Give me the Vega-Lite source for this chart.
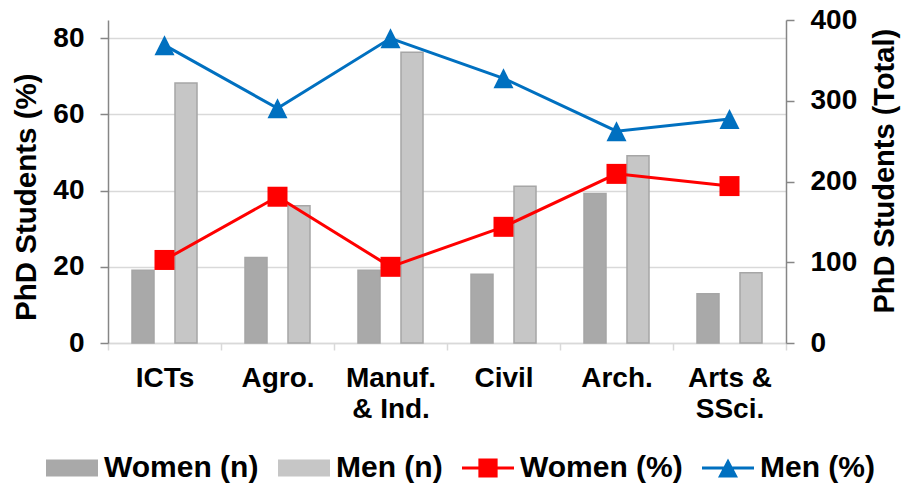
{
  "$schema": "https://vega.github.io/schema/vega-lite/v6.json",
  "width": 678,
  "height": 323,
  "autosize": {"type": "none"},
  "padding": {"left": 108, "top": 20, "right": 118, "bottom": 143},
  "background": "white",
  "config": {
    "view": {"stroke": null},
    "font": "Liberation Sans",
    "axis": {
      "labelFont": "Liberation Sans", "labelFontWeight": "bold", "labelFontSize": 28, "labelColor": "#000000",
      "titleFont": "Liberation Sans", "titleFontWeight": "bold", "titleColor": "#000000",
      "domainColor": "#868686", "domainWidth": 1.5, "tickColor": "#868686", "tickWidth": 1.5,
      "tickSize": 8, "labelPadding": 16, "gridColor": "#d9d9d9", "gridWidth": 1.5
    }
  },
  "datasets": {
    "counts": [
      {"field": "ICTs", "series": "Women (n)", "value": 90},
      {"field": "ICTs", "series": "Men (n)", "value": 322},
      {"field": "Agro.", "series": "Women (n)", "value": 106},
      {"field": "Agro.", "series": "Men (n)", "value": 170},
      {"field": "Manuf. & Ind.", "series": "Women (n)", "value": 90},
      {"field": "Manuf. & Ind.", "series": "Men (n)", "value": 360},
      {"field": "Civil", "series": "Women (n)", "value": 85},
      {"field": "Civil", "series": "Men (n)", "value": 194},
      {"field": "Arch.", "series": "Women (n)", "value": 185},
      {"field": "Arch.", "series": "Men (n)", "value": 232},
      {"field": "Arts & SSci.", "series": "Women (n)", "value": 61},
      {"field": "Arts & SSci.", "series": "Men (n)", "value": 87}
    ],
    "shares": [
      {"field": "ICTs", "idx": 1, "series": "Women (%)", "value": 21.8},
      {"field": "ICTs", "idx": 1, "series": "Men (%)", "value": 78.2},
      {"field": "Agro.", "idx": 2, "series": "Women (%)", "value": 38.4},
      {"field": "Agro.", "idx": 2, "series": "Men (%)", "value": 61.6},
      {"field": "Manuf. & Ind.", "idx": 3, "series": "Women (%)", "value": 20.0},
      {"field": "Manuf. & Ind.", "idx": 3, "series": "Men (%)", "value": 80.0},
      {"field": "Civil", "idx": 4, "series": "Women (%)", "value": 30.5},
      {"field": "Civil", "idx": 4, "series": "Men (%)", "value": 69.5},
      {"field": "Arch.", "idx": 5, "series": "Women (%)", "value": 44.4},
      {"field": "Arch.", "idx": 5, "series": "Men (%)", "value": 55.6},
      {"field": "Arts & SSci.", "idx": 6, "series": "Women (%)", "value": 41.2},
      {"field": "Arts & SSci.", "idx": 6, "series": "Men (%)", "value": 58.8}
    ]
  },
  "layer": [
    {
      "data": {"name": "counts"},
      "mark": {"type": "bar", "stroke": "#a6a6a6", "strokeWidth": 1.5},
      "encoding": {
        "x": {
          "field": "field", "type": "nominal",
          "sort": ["ICTs", "Agro.", "Manuf. & Ind.", "Civil", "Arch.", "Arts & SSci."],
          "scale": {"paddingInner": 0, "paddingOuter": 0},
          "axis": {
            "title": null, "labelAngle": 0, "domainColor": "#d9d9d9", "tickColor": "#d9d9d9",
            "tickSize": 7, "tickBand": "extent", "labelPadding": 14.5, "labelLineHeight": 31,
            "labelExpr": "datum.label == 'Manuf. & Ind.' ? ['Manuf.', '& Ind.'] : datum.label == 'Arts & SSci.' ? ['Arts &', 'SSci.'] : datum.label"
          }
        },
        "xOffset": {
          "field": "series", "type": "nominal", "sort": ["Women (n)", "Men (n)"],
          "scale": {"paddingInner": 0.488, "paddingOuter": 0.558}
        },
        "y": {
          "field": "value", "type": "quantitative",
          "scale": {"domain": [0, 400], "nice": false},
          "axis": {
            "orient": "right", "values": [0, 100, 200, 300, 400], "grid": false,
            "title": "PhD Students (Total)", "titleFontSize": 29, "titleAngle": 270,
            "titleBaseline": "top", "titlePadding": 14, "titleY": 150.7
          }
        },
        "color": {
          "field": "series", "type": "nominal",
          "scale": {"domain": ["Women (n)", "Men (n)", "Women (%)", "Men (%)"], "range": ["#a9a9a9", "#c6c6c6", "#ff0000", "#0070c0"]}
        }
      }
    },
    {
      "data": {"name": "shares"},
      "layer": [
        {
          "mark": {"type": "line", "strokeWidth": 3},
          "encoding": {
            "x": {"field": "field", "type": "nominal", "sort": ["ICTs", "Agro.", "Manuf. & Ind.", "Civil", "Arch.", "Arts & SSci."]},
            "y": {
              "field": "value", "type": "quantitative",
              "scale": {"domain": [0, 84.8], "nice": false},
              "axis": {
                "orient": "left", "values": [0, 20, 40, 60, 80], "grid": true,
                "title": "PhD Students (%)", "titleFontSize": 29.5, "titlePadding": 11, "titleY": 176.7
              }
            },
            "order": {"field": "idx", "type": "quantitative"},
            "color": {"field": "series", "type": "nominal"}
          }
        },
        {
          "mark": {"type": "point", "filled": true, "opacity": 1, "size": 400},
          "encoding": {
            "x": {"field": "field", "type": "nominal", "sort": ["ICTs", "Agro.", "Manuf. & Ind.", "Civil", "Arch.", "Arts & SSci."]},
            "y": {"field": "value", "type": "quantitative"},
            "shape": {
              "field": "series", "type": "nominal",
              "scale": {"domain": ["Women (%)", "Men (%)"], "range": ["square", "M0,-1L1,1H-1Z"]},
              "legend": null
            },
            "color": {
              "field": "series", "type": "nominal",
              "legend": {
                "orient": "none", "legendX": -62, "legendY": 422, "direction": "horizontal", "columns": 4,
                "title": null, "padding": 0, "symbolSize": 2704, "labelLimit": 400,
                "labelFont": "Liberation Sans", "labelFontWeight": "bold", "labelFontSize": 30, "labelColor": "#000000",
                "labelOffset": 6, "columnPadding": 19, "symbolStrokeWidth": 0,
                "symbolType": {"expr": "datum.value === 'Women (%)' ? 'M-1,-0.06H1V0.06H-1Z M-0.37,-0.37H0.37V0.37H-0.37Z' : datum.value === 'Men (%)' ? 'M-1,-0.06H1V0.06H-1Z M0,-0.37L0.385,0.37H-0.385Z' : 'M-1,-0.33H1V0.33H-1Z'"}
              }
            }
          }
        }
      ]
    }
  ],
  "resolve": {"scale": {"y": "independent"}}
}
